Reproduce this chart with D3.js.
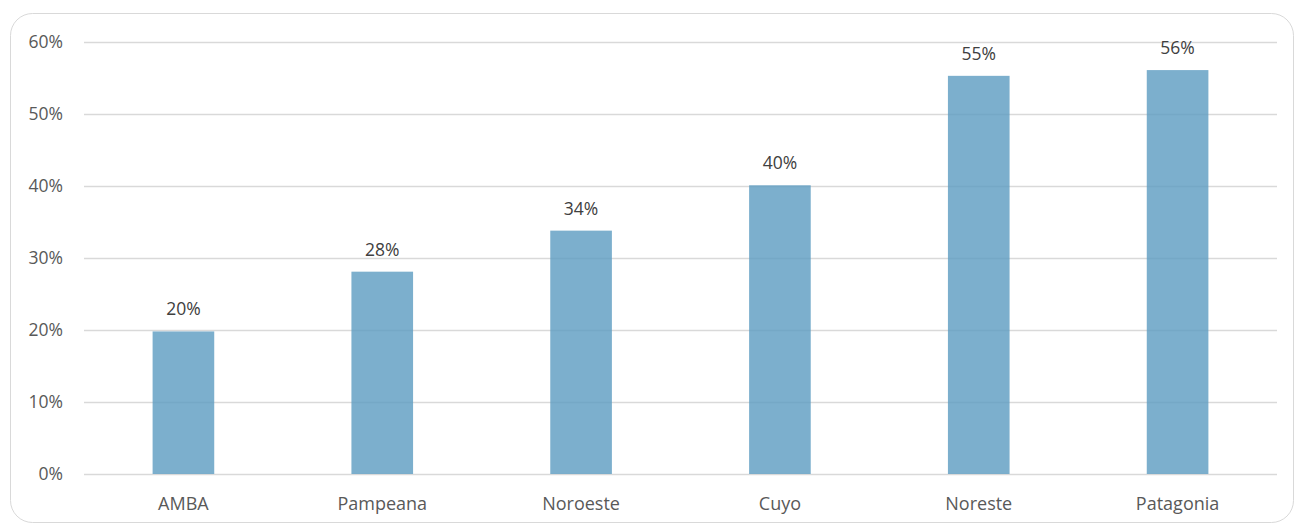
<!DOCTYPE html>
<html>
<head>
<meta charset="utf-8">
<script src="https://cdn.jsdelivr.net/npm/d3@7"></script>
<style>
  html, body { margin: 0; padding: 0; background: #ffffff; }
  svg text { font-family: "Open Sans", "Noto Sans", sans-serif; }
</style>
</head>
<body>
<svg id="chart" width="1295" height="524"></svg>
<script>
// Share by region
const regions = ["AMBA", "Pampeana", "Noroeste", "Cuyo", "Noreste", "Patagonia"];
const shares = [0.198, 0.281, 0.338, 0.401, 0.553, 0.561];
const yTicks = [0, 0.1, 0.2, 0.3, 0.4, 0.5, 0.6];

const svg = d3.select("#chart");
const W = 1295, H = 524;
const margin = { top: 42, right: 18, bottom: 50, left: 84 };

// Outer frame
svg.append("rect")
  .attr("x", 10.5).attr("y", 13.5)
  .attr("width", W - 12).attr("height", H - 15)
  .attr("rx", 22).attr("ry", 22)
  .attr("fill", "#ffffff")
  .attr("stroke", "#d9d9d9").attr("stroke-width", 1);

const x = d3.scaleBand()
  .domain(regions)
  .range([margin.left, W - margin.right])
  .paddingInner(0.69).paddingOuter(0.345);

const y = d3.scaleLinear()
  .domain([0, 0.6])
  .range([H - margin.bottom, margin.top]);

// Horizontal gridlines and y labels
const yAxis = svg.append("g")
  .attr("transform", `translate(${margin.left},0)`)
  .call(d3.axisLeft(y).tickValues(yTicks).tickFormat(d3.format(".0%"))
    .tickSize(-(W - margin.left - margin.right)).tickPadding(21));
yAxis.select(".domain").remove();
yAxis.selectAll(".tick line").attr("stroke", "#d9d9d9").attr("stroke-width", 1.3);
yAxis.selectAll(".tick text").attr("fill", "#595959").attr("font-size", 17.5);

// Bars
svg.append("g").selectAll("rect")
  .data(regions)
  .join("rect")
  .attr("x", d => x(d))
  .attr("width", x.bandwidth())
  .attr("y", (d, i) => y(shares[i]))
  .attr("height", (d, i) => y(0) - y(shares[i]))
  .attr("fill", "#5b9bc0")
  .attr("fill-opacity", 0.8);

// Value labels
svg.append("g").selectAll("text")
  .data(regions)
  .join("text")
  .attr("x", d => x(d) + x.bandwidth() / 2)
  .attr("y", (d, i) => y(shares[i]) - 16)
  .attr("text-anchor", "middle")
  .attr("font-size", 17.5)
  .attr("fill", "#404040")
  .text((d, i) => d3.format(".0%")(shares[i]));

// Category axis labels
const xAxis = svg.append("g")
  .attr("transform", `translate(0,${H - margin.bottom})`)
  .call(d3.axisBottom(x).tickSize(0).tickPadding(23));
xAxis.select(".domain").remove();
xAxis.selectAll(".tick text").attr("fill", "#595959").attr("font-size", 18);
</script>
</body>
</html>
